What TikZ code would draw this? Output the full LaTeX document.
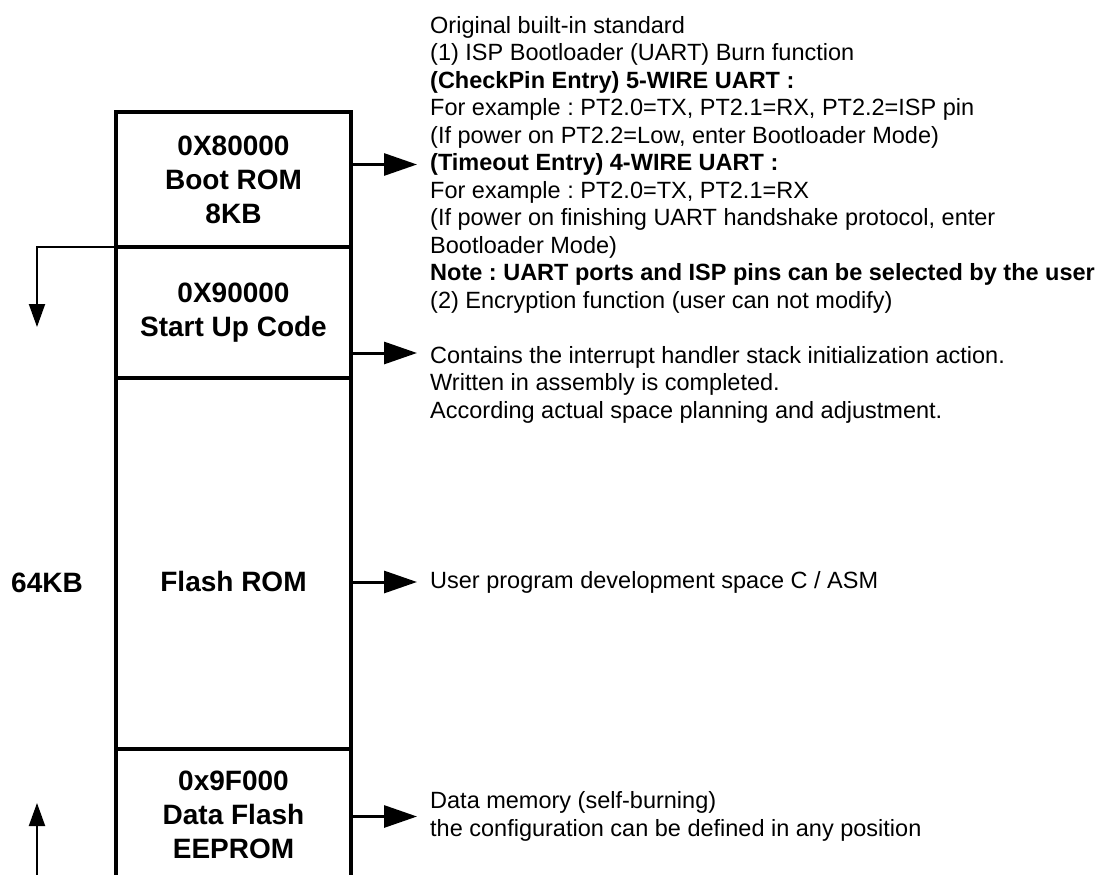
\documentclass[tikz,border=0pt]{standalone}
\usepackage{fontspec}
\setmainfont{Liberation Sans}
\usetikzlibrary{positioning}
\usetikzlibrary{arrows.meta}
\frenchspacing

\begin{document}
\begin{tikzpicture}[x=1pt,y=-1pt,
	region/.style={draw,line width=4pt,outer sep=0pt,minimum width=235pt,align=center,font=\fontsize{28}{34}\selectfont\bfseries},
	note/.style={anchor=west,align=left,inner xsep=13pt,inner ysep=0pt,font=\fontsize{23.5}{27.5}\selectfont},
	arr/.style={line width=3pt,-{Triangle[length=33pt,width=22pt]}},
	side/.style={line width=2pt,-{Triangle[length=23pt,width=16pt]}}]
	\useasboundingbox (0,0) rectangle (1101,875);
	\clip (0,0) rectangle (1101,875);
	\node (boot) [region,minimum height=135pt,anchor=north] at (233.5,112) {0X80000\\Boot ROM\\8KB};
	\node (startup) [region,minimum height=131pt,below=0pt of boot] {0X90000\\Start Up Code};
	\node (flash) [region,minimum height=371pt,below=0pt of startup] {};
	\node (data) [region,minimum height=132pt,below=0pt of flash] {0x9F000\\Data Flash\\EEPROM};
	\node (flashname) [font=\fontsize{28}{34}\selectfont\bfseries] at ([yshift=-18pt]flash.center) {Flash ROM};
	\node (size) [font=\fontsize{28}{34}\selectfont\bfseries] at (47,583) {64KB};
	\node (bootnote) [note] at (417,164.5) {Original built-in standard\\
		(1) ISP Bootloader (UART) Burn function\\
		\textbf{(CheckPin Entry) 5-WIRE UART :}\\
		For example : PT2.0=TX, PT2.1=RX, PT2.2=ISP pin\\
		(If power on PT2.2=Low, enter Bootloader Mode)\\
		\textbf{(Timeout Entry) 4-WIRE UART :}\\
		For example : PT2.0=TX, PT2.1=RX\\
		(If power on finishing UART handshake protocol, enter\\
		Bootloader Mode)\\
		\textbf{Note : UART ports and ISP pins can be selected by the user}\\
		(2) Encryption function (user can not modify)};
	\node (sunote) [note] at (417,384.5) {Contains the interrupt handler stack initialization action.\\
		Written in assembly is completed.\\
		According actual space planning and adjustment.};
	\node (flashnote) [note] at (417,582) {User program development space C / ASM};
	\node (datanote) [note] at (417,816.5) {Data memory (self-burning)\\
		the configuration can be defined in any position};
	\coordinate (sutip) at (417,353);
	\coordinate (down) at (37,327);
	\coordinate (upfoot) at (37,880);
	\coordinate (uptip) at (37,803);
	\draw[arr] (boot.east |- bootnote.west) -- (bootnote.west);
	\draw[arr] (startup.east |- sutip) -- (sutip);
	\draw[arr] (flash.east |- flashnote.west) -- (flashnote.west);
	\draw[arr] (data.east |- datanote.west) -- (datanote.west);
	\draw[side] (boot.south west) -| (down);
	\draw[side] (upfoot) -- (uptip);
\end{tikzpicture}
\end{document}
